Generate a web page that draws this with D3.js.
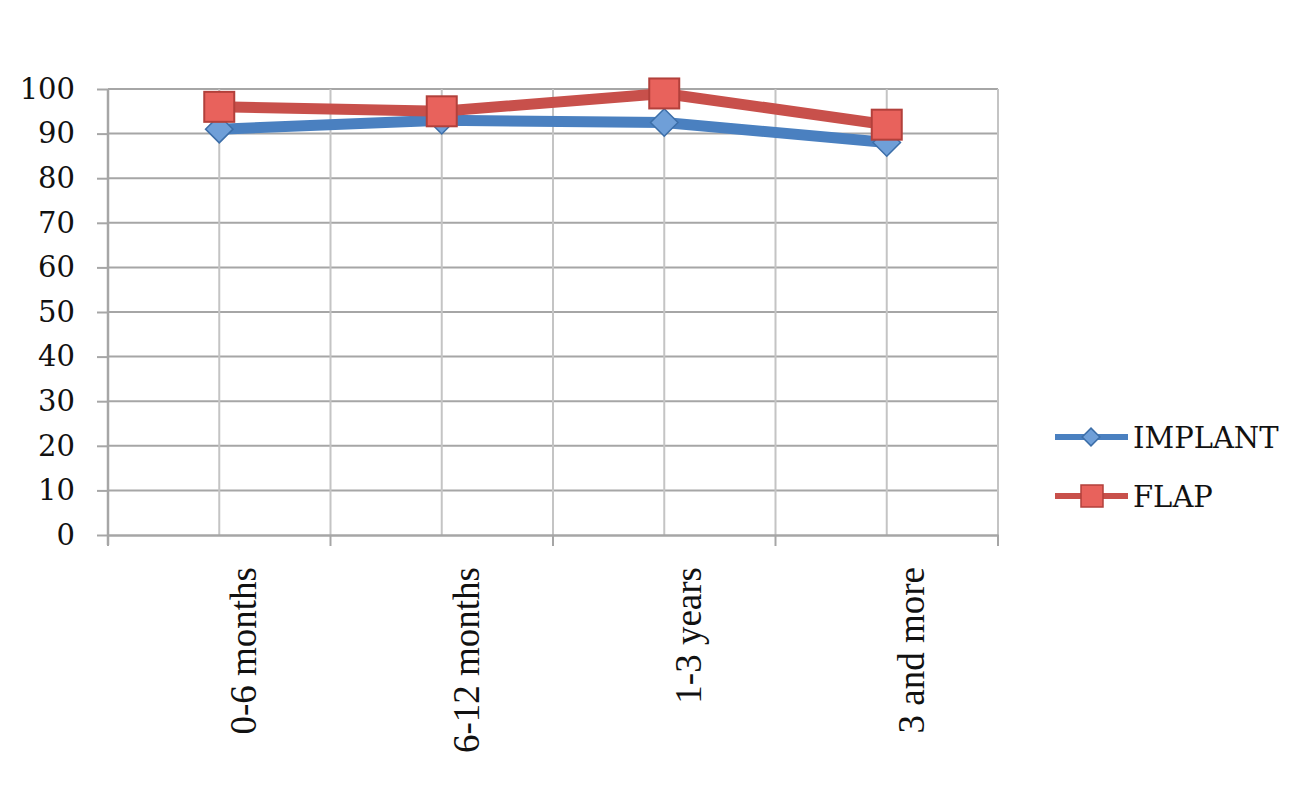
<!DOCTYPE html>
<html>
<head>
<meta charset="utf-8">
<script src="https://cdn.jsdelivr.net/npm/d3@7"></script>
<style>
  html, body { margin: 0; padding: 0; background: #ffffff; }
  svg { display: block; }
</style>
</head>
<body>
<svg id="chart" width="1304" height="800"></svg>
<script>
const categories = ["0-6 months", "6-12 months", "1-3 years", "3 and more"];
const implantValues = [91, 93, 92.5, 88];
const flapValues = [96, 95, 99, 92];
const yTicks = [0, 10, 20, 30, 40, 50, 60, 70, 80, 90, 100];
const seriesNames = ["IMPLANT", "FLAP"];

(function () {
const svg = d3.select("#chart");
const pLeft = 108, pRight = 998, pTop = 89, pBottom = 535;

const x = d3.scaleBand().domain(categories).range([pLeft, pRight]).padding(0);
const y = d3.scaleLinear().domain([0, 100]).range([pBottom, pTop]);

const gridColor = "#a6a6a6";
const vGridColor = "#c4c4c4";

// horizontal gridlines
svg.append("g").selectAll("line").data(yTicks.filter(d => d > 0)).join("line")
  .attr("x1", pLeft).attr("x2", pRight)
  .attr("y1", d => y(d)).attr("y2", d => y(d))
  .attr("stroke", gridColor).attr("stroke-width", 2);

// vertical gridlines: category centres and boundaries
const vLines = [];
categories.forEach(c => {
  vLines.push(x(c) + x.bandwidth() / 2);
  vLines.push(x(c) + x.bandwidth());
});
svg.append("g").selectAll("line").data(vLines).join("line")
  .attr("x1", d => d).attr("x2", d => d)
  .attr("y1", pTop).attr("y2", pBottom)
  .attr("stroke", vGridColor).attr("stroke-width", 2);

// Y axis
const yAxis = d3.axisLeft(y).tickValues(yTicks).tickSize(11).tickPadding(22);
const yG = svg.append("g").attr("transform", `translate(${pLeft},0)`).call(yAxis);
yG.select(".domain").attr("stroke", gridColor).attr("stroke-width", 2.5)
  .attr("d", `M0,${pTop}V${pBottom + 10}`);
yG.selectAll(".tick line").attr("stroke", gridColor).attr("stroke-width", 2);
yG.selectAll(".tick text")
  .attr("font-family", "'DejaVu Serif', serif")
  .attr("font-size", 29).attr("fill", "#111");

// X axis
const xAxis = d3.axisBottom(x).tickSize(0).tickFormat(d => d);
const xG = svg.append("g").attr("transform", `translate(0,${pBottom})`).call(xAxis);
xG.select(".domain").attr("stroke", gridColor).attr("stroke-width", 2.5);
xG.selectAll(".tick text")
  .attr("font-family", "'Liberation Serif', 'Times New Roman', serif")
  .attr("font-size", 37).attr("fill", "#111")
  .attr("text-anchor", "end")
  .attr("dy", 0)
  .attr("x", 0).attr("y", 0)
  .attr("transform", "translate(37,32) rotate(-90)");
// boundary tick marks
const bounds = [pLeft].concat(categories.map(c => x(c) + x.bandwidth()));
svg.append("g").selectAll("line").data(bounds).join("line")
  .attr("x1", d => d).attr("x2", d => d)
  .attr("y1", pBottom).attr("y2", pBottom + 11)
  .attr("stroke", gridColor).attr("stroke-width", 2);

const cx = d => x(d) + x.bandwidth() / 2;

const blue = "#4a80c0", blueFill = "#6f9fd8", blueEdge = "#3c6ea8";
const red = "#c8504b", redFill = "#e8625c", redEdge = "#b2403b";

function drawSeries(values, color) {
  const line = d3.line().x((d, i) => cx(categories[i])).y(d => y(d));
  svg.append("path").datum(values)
    .attr("d", line).attr("fill", "none")
    .attr("stroke", color).attr("stroke-width", 11)
    .attr("stroke-linejoin", "round");
}

// IMPLANT
drawSeries(implantValues, blue);
svg.append("g").selectAll("path").data(implantValues).join("path")
  .attr("d", d3.symbol().type(d3.symbolDiamond2).size(480))
  .attr("transform", (d, i) => `translate(${cx(categories[i])},${y(d)})`)
  .attr("fill", blueFill).attr("stroke", blueEdge).attr("stroke-width", 1.5);

// FLAP
drawSeries(flapValues, red);
svg.append("g").selectAll("rect").data(flapValues).join("rect")
  .attr("x", (d, i) => cx(categories[i]) - 15)
  .attr("y", d => y(d) - 15)
  .attr("width", 30).attr("height", 30)
  .attr("fill", redFill).attr("stroke", redEdge).attr("stroke-width", 2);

// Legend
const legend = svg.append("g");
const legY = [437, 496];
const colors = [blue, red];
seriesNames.forEach((name, i) => {
  const g = legend.append("g").attr("transform", `translate(0,${legY[i]})`);
  g.append("line").attr("x1", 1055).attr("x2", 1128).attr("y1", 0).attr("y2", 0)
    .attr("stroke", colors[i]).attr("stroke-width", 6);
  if (i === 0) {
    g.append("path").attr("d", d3.symbol().type(d3.symbolDiamond2).size(200))
      .attr("transform", "translate(1091,0)")
      .attr("fill", blueFill).attr("stroke", blueEdge).attr("stroke-width", 1.5);
  } else {
    g.append("rect").attr("x", 1081).attr("y", -11).attr("width", 22).attr("height", 22)
      .attr("fill", redFill).attr("stroke", redEdge).attr("stroke-width", 1.5);
  }
  g.append("text").attr("x", 1133).attr("y", 11)
    .attr("font-family", "'DejaVu Serif', serif")
    .attr("font-size", 29).attr("fill", "#111")
    .text(name);
});
})();
</script>
</body>
</html>
